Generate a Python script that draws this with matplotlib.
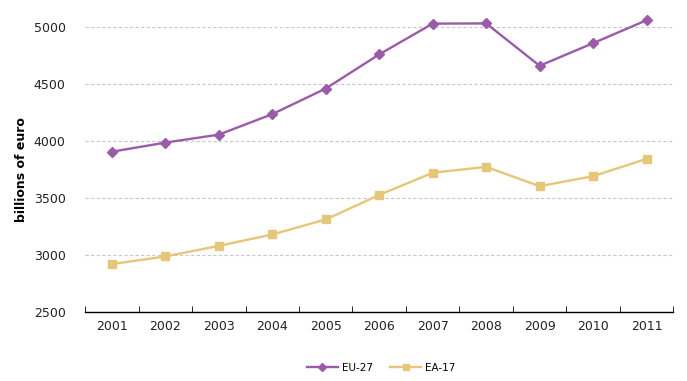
import matplotlib.pyplot as plt
import numpy as np

years = ['2001', '2002', '2003', '2004', '2005', '2006',
         '2007', '2008', '2009', '2010', '2011']
eu27 = [3905, 3985, 4055, 4235, 4460, 4760, 5030, 5032, 4660, 4858, 5060]
ea17 = [2918, 2985, 3078, 3178, 3310, 3525, 3720, 3772, 3602, 3690, 3842]

purple = '#9B5BA9'
gold = '#E5C777'

fig = plt.figure(figsize=(6.87, 3.81), dpi=100)
ax = fig.add_axes([0.124, 0.182, 0.856, 0.747])

x = np.arange(len(years))
ax.plot(x, eu27, color=purple, lw=1.7, marker='D', ms=5, label='EU-27', clip_on=False, zorder=3)
ax.plot(x, ea17, color=gold, lw=1.7, marker='s', ms=6, label='EA-17', clip_on=False, zorder=3)

ax.set_xlim(-0.5, len(years) - 0.5)
ax.set_ylim(2500, 5000)
ax.set_yticks(range(2500, 5001, 500))
ax.set_xticks(x)
ax.set_xticklabels(years)
ax.set_xticks(np.arange(-0.5, len(years), 1), minor=True)
ax.tick_params(axis='x', which='major', length=0, labelsize=9, colors='#222222', pad=6)
ax.tick_params(axis='x', which='minor', length=4, direction='in', color='black')
ax.tick_params(axis='y', length=0, labelsize=9, colors='#222222', pad=14)

ax.grid(axis='y', color='#C8C8C8', linestyle=(0, (3, 2)), lw=0.8)
ax.set_axisbelow(True)
for s in ['left', 'right', 'top']:
    ax.spines[s].set_visible(False)
ax.spines['bottom'].set_color('black')
ax.spines['bottom'].set_linewidth(1)

ax.set_ylabel('billions of euro', fontsize=9, fontweight='bold', labelpad=4)

fig.legend(loc='center', bbox_to_anchor=(0.555, 0.035), ncol=2, frameon=False,
           fontsize=7.5, handlelength=3, handletextpad=0.4, columnspacing=1.6,
           markerscale=0.8)

fig.savefig('out.png', dpi=100)
